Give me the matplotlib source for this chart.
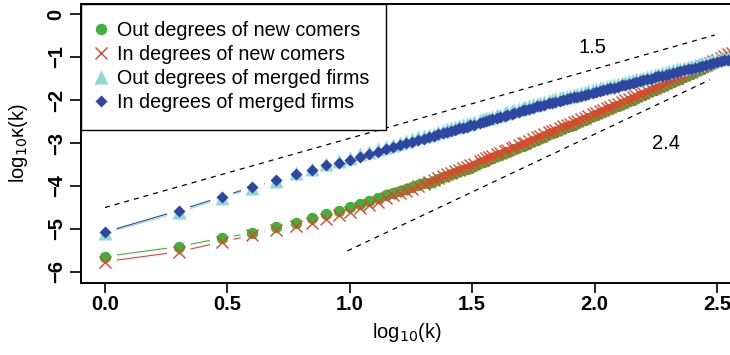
import numpy as np
import matplotlib
matplotlib.use("Agg")
import matplotlib.pyplot as plt
from matplotlib.collections import LineCollection
from matplotlib.lines import Line2D

plt.rcParams['font.family'] = ['Liberation Sans', 'DejaVu Sans']

# degree k (x axis is log10(k))
k = [1, 2, 3, 4, 5, 6, 7, 8, 9, 10, 11, 12, 13, 14, 15, 16, 17, 18, 19, 20,
     21, 22, 23, 24, 25, 26, 27, 28, 29, 30, 31, 32, 34, 35, 36, 37, 38, 40, 41, 43,
     44, 46, 47, 49, 51, 52, 54, 56, 58, 60, 62, 65, 67, 69, 72, 74, 77, 79, 82, 85,
     88, 91, 94, 98, 101, 105, 108, 112, 116, 120, 124, 129, 133, 138, 143, 148, 153, 158, 164, 170,
     176, 182, 188, 195, 202, 209, 216, 224, 232, 240, 248, 257, 266, 275, 285, 295, 305, 316, 327, 339,
     351, 363]

# log10 of the cumulative distribution
out_new = [-5.64, -5.41, -5.21, -5.09, -4.96, -4.85, -4.75, -4.65, -4.57, -4.50, -4.42, -4.35, -4.29, -4.22, -4.17, -4.12, -4.07, -4.03, -3.98, -3.94,
           -3.92, -3.88, -3.84, -3.80, -3.76, -3.73, -3.70, -3.66, -3.63, -3.60, -3.57, -3.53, -3.47, -3.44, -3.41, -3.38, -3.36, -3.31, -3.28, -3.23,
           -3.21, -3.16, -3.14, -3.10, -3.06, -3.04, -3.00, -2.96, -2.92, -2.89, -2.85, -2.80, -2.77, -2.74, -2.70, -2.66, -2.63, -2.60, -2.57, -2.53,
           -2.49, -2.46, -2.42, -2.38, -2.35, -2.31, -2.28, -2.24, -2.21, -2.17, -2.14, -2.09, -2.06, -2.02, -1.99, -1.95, -1.91, -1.88, -1.84, -1.80,
           -1.76, -1.73, -1.69, -1.65, -1.61, -1.57, -1.54, -1.50, -1.46, -1.42, -1.39, -1.35, -1.31, -1.27, -1.23, -1.19, -1.15, -1.11, -1.07, -1.03,
           -0.99, -0.95]
in_new = [-5.76, -5.53, -5.30, -5.14, -5.03, -4.94, -4.86, -4.77, -4.67, -4.60, -4.52, -4.44, -4.37, -4.29, -4.22, -4.16, -4.11, -4.06, -4.01, -3.96,
          -3.91, -3.86, -3.82, -3.77, -3.73, -3.69, -3.66, -3.62, -3.58, -3.55, -3.52, -3.48, -3.42, -3.39, -3.36, -3.33, -3.31, -3.26, -3.23, -3.18,
          -3.16, -3.11, -3.09, -3.05, -3.01, -2.99, -2.95, -2.91, -2.87, -2.84, -2.80, -2.75, -2.72, -2.69, -2.64, -2.60, -2.57, -2.55, -2.52, -2.48,
          -2.44, -2.41, -2.37, -2.33, -2.30, -2.26, -2.23, -2.19, -2.16, -2.12, -2.09, -2.04, -2.01, -1.97, -1.94, -1.90, -1.86, -1.83, -1.79, -1.75,
          -1.71, -1.68, -1.64, -1.60, -1.56, -1.52, -1.49, -1.45, -1.41, -1.37, -1.34, -1.30, -1.26, -1.22, -1.18, -1.14, -1.10, -1.06, -1.02, -0.98,
          -0.94, -0.90]
out_merged = [-5.10, -4.61, -4.29, -4.04, -3.88, -3.70, -3.60, -3.48, -3.41, -3.34, -3.26, -3.20, -3.14, -3.09, -3.04, -2.99, -2.95, -2.91, -2.87, -2.84,
              -2.81, -2.78, -2.74, -2.71, -2.68, -2.66, -2.63, -2.60, -2.58, -2.56, -2.53, -2.51, -2.47, -2.45, -2.43, -2.41, -2.39, -2.35, -2.34, -2.31,
              -2.29, -2.26, -2.24, -2.21, -2.18, -2.17, -2.14, -2.12, -2.09, -2.07, -2.05, -2.02, -2.00, -1.98, -1.96, -1.94, -1.92, -1.90, -1.88, -1.86,
              -1.84, -1.82, -1.80, -1.77, -1.75, -1.73, -1.71, -1.69, -1.67, -1.65, -1.63, -1.60, -1.58, -1.56, -1.54, -1.52, -1.50, -1.48, -1.46, -1.44,
              -1.41, -1.39, -1.37, -1.35, -1.33, -1.31, -1.29, -1.27, -1.25, -1.23, -1.21, -1.19, -1.17, -1.15, -1.12, -1.10, -1.08, -1.06, -1.04, -1.02,
              -1.00, -0.98]
in_merged = [-5.07, -4.57, -4.25, -4.02, -3.87, -3.72, -3.63, -3.52, -3.46, -3.39, -3.32, -3.26, -3.20, -3.15, -3.10, -3.05, -3.01, -2.97, -2.93, -2.90,
             -2.87, -2.84, -2.80, -2.77, -2.74, -2.72, -2.69, -2.66, -2.64, -2.62, -2.59, -2.57, -2.53, -2.51, -2.49, -2.47, -2.45, -2.41, -2.40, -2.37,
             -2.35, -2.32, -2.30, -2.27, -2.24, -2.23, -2.20, -2.18, -2.15, -2.13, -2.11, -2.08, -2.06, -2.04, -2.02, -2.00, -1.98, -1.96, -1.94, -1.92,
             -1.90, -1.88, -1.86, -1.83, -1.81, -1.79, -1.77, -1.75, -1.73, -1.71, -1.69, -1.66, -1.64, -1.62, -1.60, -1.58, -1.56, -1.54, -1.52, -1.50,
             -1.47, -1.45, -1.43, -1.41, -1.39, -1.37, -1.35, -1.33, -1.31, -1.29, -1.27, -1.25, -1.23, -1.21, -1.18, -1.16, -1.14, -1.12, -1.10, -1.08,
             -1.06, -1.04]

labels = ["Out degrees of new comers", "In degrees of new comers",
          "Out degrees of merged firms", "In degrees of merged firms"]

# reference slopes drawn as dashed guides
guide_a_x = [0.0, 2.49]
guide_a_y = [-4.5, -0.49]
guide_b_x = [0.99, 2.47]
guide_b_y = [-5.51, -1.53]
slope_labels = ["1.5", "2.4"]

W, H = 730, 355
fig = plt.figure(figsize=(W / 100, H / 100), dpi=100)
ax = fig.add_axes([81 / W, (H - 283) / H, (733 - 81) / W, (283 - 4) / H])
ax.set_xlim(-0.098, 2.565)
ax.set_ylim(-6.256, 0.233)

x = np.log10(k)
styles = [
    dict(marker='o', color='#3cb43c', ms=8.2, mec='none'),
    dict(marker='x', color='#e8402c', ms=8.2, mew=1.0),
    dict(marker='^', color='#8fdbd4', ms=9.4, mec='none'),
    dict(marker='D', color='#2e45a2', ms=6.5, mec='none'),
]
series = [out_new, in_new, out_merged, in_merged]

# R type="b": lines between points, stopping short of each marker
gap = 12.0
for ys, st in zip(series, styles):
    pts = ax.transData.transform(np.column_stack([x, ys]))
    segs = []
    for p0, p1 in zip(pts[:-1], pts[1:]):
        d = p1 - p0
        n = np.hypot(*d)
        if n > 2 * gap:
            u = d / n
            a = ax.transData.inverted().transform(p0 + u * gap)
            b = ax.transData.inverted().transform(p1 - u * gap)
            segs.append([a, b])
    ax.add_collection(LineCollection(segs, colors=st['color'], linewidths=0.8))

for ys, st in zip(series, styles):
    ax.plot(x, ys, linestyle='none', **st)

ax.plot(guide_a_x, guide_a_y, color='black', ls=(0, (4, 4)), lw=0.9)
ax.plot(guide_b_x, guide_b_y, color='black', ls=(0, (4, 4)), lw=0.9)
ax.text(1.99, -0.77, slope_labels[0], fontsize=14.5, ha='center', va='center')
ax.text(2.29, -3.0, slope_labels[1], fontsize=14.5, ha='center', va='center')

ax.set_xticks([0.0, 0.5, 1.0, 1.5, 2.0, 2.5])
ax.set_xticklabels(['0.0', '0.5', '1.0', '1.5', '2.0', '2.5'], fontweight='bold')
ax.set_yticks([-6, -5, -4, -3, -2, -1, 0])
ax.set_yticklabels(['\u22126', '\u22125', '\u22124', '\u22123', '\u22122', '\u22121', '0'],
                   fontweight='bold', rotation=90, va='center')
ax.tick_params(direction='out', length=8, width=1.2, labelsize=14.5, pad=3)
ax.tick_params(axis='x', length=7, pad=2)
for sp in ax.spines.values():
    sp.set_linewidth(1.4)

ax.set_xlabel('log$_{10}$(k)', fontsize=14.5, labelpad=5)
ax.set_ylabel('log$_{10}$\u03ba(k)', fontsize=14.5, labelpad=12)

handles = [Line2D([], [], linestyle='none', **st) for st in styles]
leg = ax.legend(handles, labels, loc='upper left', bbox_to_anchor=(0, 1), borderaxespad=0,
                fancybox=False, edgecolor='black', fontsize=14.25, handlelength=0.3,
                handletextpad=0.62, borderpad=0.88, labelspacing=0.25, framealpha=1)
leg.get_frame().set_linewidth(1.0)

fig.savefig('out.png', dpi=100)
